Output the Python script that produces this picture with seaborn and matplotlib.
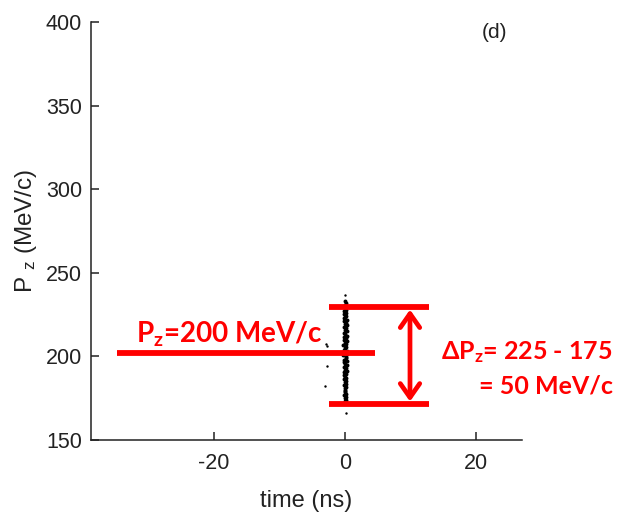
#!/usr/bin/env python3
# plot.py
# Longitudinal phase space (Pz vs time) with red hand-drawn style annotations

import matplotlib
matplotlib.use("Agg")
import matplotlib.pyplot as plt
import seaborn as sns
import pandas as pd

# -------------------------
# Data
# -------------------------
core_time_ns = [0.05, -0.10, 0.12, -0.05, 0.20, -0.18, 0.08, -0.22, 0.15, 0.02,
                -0.12, 0.25, -0.20, 0.10, -0.02, 0.22, -0.20, 0.18, -0.08, 0.22,
                -0.25, 0.05, 0.28, -0.15, 0.12, -0.25, 0.30, -0.05, 0.15, -0.28,
                0.20, 0.00, -0.18, 0.28, -0.10, 0.25, -0.28, 0.08, 0.18, -0.22,
                0.30, -0.12, 0.02, 0.22, -0.25, 0.12, -0.05, 0.25, -0.15, 0.10,
                -0.20, 0.05, 0.18, -0.10, 0.15, -0.02, 0.08, -0.12, 0.10, 0.00,
                -0.08, 0.04]
core_pz = [231.0, 230.2, 229.5, 228.6, 227.8, 227.0, 226.1, 225.3, 224.4, 223.6,
           222.7, 221.9, 221.0, 220.2, 219.3, 218.5, 217.6, 216.8, 215.9, 215.1,
           214.2, 213.4, 212.5, 211.7, 210.8, 210.0, 209.1, 208.3, 207.4, 206.6,
           205.7, 204.9, 204.0, 203.2, 202.3, 201.5, 200.6, 199.8, 198.9, 198.1,
           197.2, 196.4, 195.5, 194.7, 193.8, 193.0, 192.1, 191.3, 190.4, 189.6,
           188.7, 187.9, 187.0, 186.2, 185.3, 184.5, 183.6, 182.8, 181.9, 181.1,
           180.2, 179.4]
tail_time_ns = [-0.05, 0.10, -0.12, 0.06, -0.02, 0.08, -0.06, 0.02, 0.10, -0.04]
tail_pz = [178.5, 177.6, 176.8, 175.9, 175.1, 174.2, 173.4, 172.5, 232.0, 233.0]
stray_time_ns = [-2.9, -2.8, -2.7, -3.1, 0.0, 0.15]
stray_pz = [207.5, 206.0, 194.0, 182.5, 236.5, 166.0]

pz_nominal = 200          # MeV/c
pz_high, pz_low = 229.5, 171.5   # drawn band edges
xlim = (-38.8, 27.0)
ylim = (150, 400)
yticks = [150, 200, 250, 300, 350, 400]
xticks = [-20, 0, 20]

df = pd.DataFrame({
    "time": core_time_ns + tail_time_ns,
    "pz": core_pz + tail_pz,
})
df_stray = pd.DataFrame({"time": stray_time_ns, "pz": stray_pz})

# -------------------------
# Style
# -------------------------
sns.set_style("ticks")
plt.rcParams["font.family"] = ["Liberation Sans", "DejaVu Sans"]
plt.rcParams["mathtext.fontset"] = "custom"
plt.rcParams["mathtext.default"] = "regular"
plt.rcParams["axes.unicode_minus"] = False

RED = "#ff0000"
INK = "#222222"

fig = plt.figure(figsize=(6.21, 5.15), dpi=100)
ax = fig.add_axes([0.1465, 0.1456, 0.6941, 0.8117])

sns.scatterplot(data=df, x="time", y="pz", ax=ax, s=8, color="black",
                linewidth=0, legend=False, zorder=2)
sns.scatterplot(data=df_stray, x="time", y="pz", ax=ax, s=3, color="black",
                linewidth=0, legend=False, zorder=2)

ax.set_xlim(*xlim)
ax.set_ylim(*ylim)
ax.set_xticks(xticks)
ax.set_yticks(yticks)
sns.despine(ax=ax)
for sp in ("left", "bottom"):
    ax.spines[sp].set_linewidth(1.1)
    ax.spines[sp].set_color(INK)
ax.tick_params(direction="in", length=6, width=1.1, color=INK,
               labelsize=15.5, labelcolor=INK)
ax.tick_params(axis="y", pad=6.5)
ax.tick_params(axis="x", pad=9)

ax.set_xlabel("time (ns)", fontsize=17, color=INK, labelpad=12)
ax.set_ylabel(r"P $_z$ (MeV/c)", fontsize=17.5, color=INK, labelpad=5)

ax.text(0.936, 0.975, "(d)", transform=ax.transAxes, fontsize=15,
        color=INK, ha="center", va="center")

# -------------------------
# Red annotations
# -------------------------
lw = 4.2
ax.plot([-34.8, 4.6], [pz_nominal + 2, pz_nominal + 2], color=RED, lw=lw,
        solid_capstyle="butt", zorder=3)
ax.plot([-2.4, 12.8], [pz_high, pz_high], color=RED, lw=lw,
        solid_capstyle="butt", zorder=3)
ax.plot([-2.4, 12.8], [pz_low, pz_low], color=RED, lw=lw,
        solid_capstyle="butt", zorder=3)
ax.annotate("", xy=(9.9, pz_high - 1.5), xytext=(9.9, pz_low + 1.5),
            arrowprops=dict(arrowstyle="<->,head_length=1.0,head_width=0.7",
                            color=RED, lw=3.4, shrinkA=0, shrinkB=0))

bold = dict(color=RED, fontweight="bold", family=["Lato", "DejaVu Sans"])
ax.text(-32.0, 208.5, r"P$_z$=200 MeV/c", fontsize=20, ha="left",
        va="baseline", **bold)
fig.text(613 / 621, 1 - 352 / 515, r"ΔP$_z$= 225 - 175", fontsize=18,
         ha="right", va="center", **bold)
fig.text(613 / 621, 1 - 386 / 515, "= 50 MeV/c", fontsize=18,
         ha="right", va="center", **bold)

fig.savefig("out.png", dpi=100)
